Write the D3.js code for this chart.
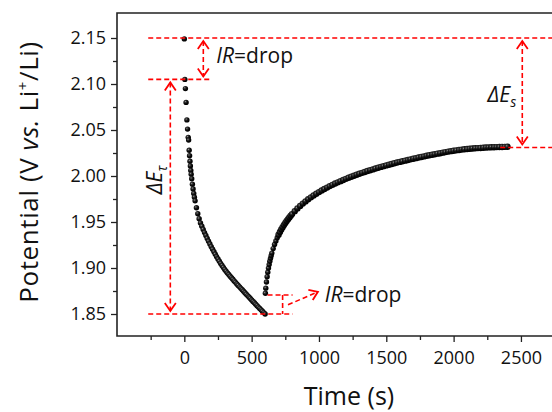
<!DOCTYPE html>
<html><head><meta charset="utf-8">
<script src="https://cdn.jsdelivr.net/npm/d3@7"></script>
<style>
body{margin:0;background:#fff;}
svg{display:block;font-family:'Open Sans',sans-serif;}
</style>
</head><body>
<svg id="chart" width="552" height="412"></svg>
<script>
// ---------- data ----------
const dischargeTime = [0,4,8,13,19,24,29,32,36,39,42,45,48,51,55,60,65,70,75,80,90,100,110,120,
  130,140,150,160,170,180,190,200,210,220,230,240,250,260,270,280,290,300,310,320,330,340,350,
  360,370,380,390,400,410,420,430,440,450,460,470,480,490,500,510,520,530,540,550,560,570,580,590,600];
const dischargePotential = [2.149,2.105,2.095,2.080,2.061,2.051,2.042,2.039,2.028,2.022,2.016,2.011,
  2.006,2.002,1.997,1.991,1.986,1.981,1.977,1.973,1.9655,1.959,1.9535,1.949,
  1.9454,1.9419,1.9385,1.9353,1.9321,1.9291,1.9261,1.9232,1.9204,1.9176,1.9149,1.9123,1.9098,
  1.9073,1.9050,1.9027,1.9006,1.8985,1.8966,1.8947,1.8929,1.8911,1.8894,1.8877,1.8860,1.8844,
  1.8827,1.8811,1.8795,1.8779,1.8763,1.8747,1.8731,1.8715,1.8700,1.8684,1.8668,1.8653,1.8637,
  1.8622,1.8606,1.8591,1.8575,1.8560,1.8545,1.8530,1.8515,1.8500];
const restTime = [602,605,610,615,620,625,630,635,640,645,650,660,670,680,690,700,710,720,730,740,
  750,760,770,780,790,800,820,840,860,880,900,920,940,960,980,1000,1020,1040,1060,1080,1100,1120,
  1140,1160,1180,1200,1220,1240,1260,1280,1300,1320,1340,1360,1380,1400,1420,1440,1460,1480,1500,
  1520,1540,1560,1580,1600,1620,1640,1660,1680,1700,1720,1740,1760,1780,1800,1820,1840,1860,1880,
  1900,1920,1940,1960,1980,2000,2020,2040,2060,2080,2100,2120,2140,2160,2180,2200,2220,2240,2260,
  2280,2300,2320,2340,2360,2380,2400];
const restPotential = [1.8725,1.8781,1.8848,1.8905,1.8955,1.8999,1.9037,1.9073,1.9105,1.9134,1.9162,
  1.9211,1.9255,1.9294,1.9329,1.9361,1.9391,1.9419,1.9444,1.9468,1.9490,1.9511,1.9531,1.9550,1.9568,
  1.9586,1.9618,1.9648,1.9675,1.9700,1.9724,1.9747,1.9768,1.9788,1.9807,1.9825,1.9842,1.9858,1.9874,
  1.9890,1.9904,1.9918,1.9931,1.9944,1.9957,1.9969,1.9981,1.9992,2.0003,2.0014,2.0024,2.0034,2.0044,
  2.0054,2.0063,2.0072,2.0081,2.0090,2.0099,2.0107,2.0115,2.0123,2.0131,2.0139,2.0146,2.0153,2.0160,
  2.0167,2.0174,2.0181,2.0188,2.0194,2.0201,2.0207,2.0213,2.0220,2.0226,2.0231,2.0237,2.0243,2.0248,
  2.0254,2.0260,2.0265,2.0270,2.0275,2.0279,2.0283,2.0287,2.0290,2.0293,2.0296,2.0299,2.0301,2.0303,
  2.0305,2.0307,2.0309,2.0311,2.0312,2.0313,2.0314,2.0315,2.0316,2.0317,2.0318];
const xTickValues = [0,500,1000,1500,2000,2500];
const xMinorTickValues = [-250,250,750,1250,1750,2250];
const yTickValues = [1.85,1.90,1.95,2.00,2.05,2.10,2.15];
const yMinorTickValues = [1.875,1.925,1.975,2.025,2.075,2.125];
const xTitle = "Time (s)";

// ---------- layout ----------
const svg = d3.select("#chart");
const plotLeft = 117, plotTop = 13, plotBottom = 336, plotRight = 552;
const x = d3.scaleLinear().domain([-500, 2750]).range([117, 554.6]);
const y = d3.scaleLinear().domain([1.85, 2.15]).range([314, 38]);

svg.append("rect").attr("x",0).attr("y",0).attr("width",552).attr("height",412).attr("fill","#fff");

const defs = svg.append("defs");
const g = defs.append("radialGradient").attr("id","ball").attr("cx","38%").attr("cy","35%").attr("r","60%");
g.append("stop").attr("offset","0%").attr("stop-color","#9a9a9a");
g.append("stop").attr("offset","25%").attr("stop-color","#3a3a3a");
g.append("stop").attr("offset","60%").attr("stop-color","#0c0c0c");
g.append("stop").attr("offset","100%").attr("stop-color","#000");
defs.append("clipPath").attr("id","clip").append("rect")
  .attr("x",plotLeft).attr("y",plotTop).attr("width",plotRight-plotLeft).attr("height",plotBottom-plotTop);

// ---------- axes ----------
const axisColor = "#222";
const xAxis = svg.append("g").attr("transform",`translate(0,${plotBottom})`)
  .call(d3.axisBottom(x).tickValues(xTickValues).tickSize(6).tickPadding(9).tickFormat(d3.format("d")));
const xMinor = svg.append("g").attr("transform",`translate(0,${plotBottom})`)
  .call(d3.axisBottom(x).tickValues(xMinorTickValues).tickSize(4).tickFormat(""));
const yAxis = svg.append("g").attr("transform",`translate(${plotLeft},0)`)
  .call(d3.axisLeft(y).tickValues(yTickValues).tickSize(6).tickPadding(5).tickFormat(d3.format(".2f")));
const yMinor = svg.append("g").attr("transform",`translate(${plotLeft},0)`)
  .call(d3.axisLeft(y).tickValues(yMinorTickValues).tickSize(4).tickFormat(""));
[xAxis,xMinor,yAxis,yMinor].forEach(a=>{
  a.select(".domain").remove();
  a.selectAll("line").attr("stroke",axisColor).attr("stroke-width",1.3);
  a.selectAll("text").attr("fill","#111").style("font-size","18px").style("font-family","'Open Sans',sans-serif");
});

// frame
const frame = svg.append("g").attr("stroke",axisColor).attr("stroke-width",1.6).attr("fill","none");
frame.append("path").attr("d",`M${plotRight},${plotTop}H${plotLeft}V${plotBottom}H${plotRight}`);

// titles
svg.append("text").attr("x",349).attr("y",405).attr("text-anchor","middle")
  .style("font-size","25px").attr("fill","#111").text(xTitle);
const yt = svg.append("text").attr("transform","translate(38,172) rotate(-90)").attr("text-anchor","middle")
  .style("font-size","26px").style("letter-spacing","0.6px").attr("fill","#111");
yt.append("tspan").text("Potential (V ");
yt.append("tspan").style("font-style","italic").text("vs.");
yt.append("tspan").text(" Li");
yt.append("tspan").attr("dy",-10).style("font-size","15px").text("+");
yt.append("tspan").attr("dy",10).text("/Li)");

// ---------- data points ----------
const pts = svg.append("g").attr("clip-path","url(#clip)");
const dis = dischargeTime.map((t,i)=>({t, v: dischargePotential[i]}));
const rest = restTime.map((t,i)=>({t, v: restPotential[i]}));
pts.selectAll("circle.d").data(dis).join("circle").attr("class","d")
  .attr("cx",d=>x(d.t)).attr("cy",d=>y(d.v)).attr("r",2.7)
  .attr("fill","url(#ball)");
pts.selectAll("circle.r").data(rest).join("circle").attr("class","r")
  .attr("cx",d=>x(d.t)).attr("cy",d=>y(d.v)).attr("r",d=>d.t<700?2.7:3.2)
  .attr("fill","url(#ball)");

// ---------- annotations ----------
const red = "#ff0000";
const ann = svg.append("g").attr("stroke",red).attr("stroke-width",1.6).attr("fill","none");
function dline(t1,v1,t2,v2){
  ann.append("line").attr("x1",x(t1)).attr("y1",y(v1)).attr("x2",x(t2)).attr("y2",y(v2))
    .attr("stroke-dasharray","5,3");
}
function head(px,py,ang){ // ang: direction the arrow points (radians, screen)
  const L=8, W=5.5, bx=Math.cos(ang+Math.PI), by=Math.sin(ang+Math.PI);
  const nx=-by, ny=bx;
  ann.append("path").attr("d",`M${px+bx*L+nx*W},${py+by*L+ny*W}L${px},${py}L${px+bx*L-nx*W},${py+by*L-ny*W}`)
    .attr("stroke-width",1.8);
}
function vArrow(t,vTop,vBot){
  const xp=x(t), y1=y(vTop)+3, y2=y(vBot)-3;
  ann.append("line").attr("x1",xp).attr("x2",xp).attr("y1",y1).attr("y2",y2).attr("stroke-dasharray","5,3");
  head(xp,y1,-Math.PI/2); head(xp,y2,Math.PI/2);
}
const vTopLevel = 2.15, vIR = 2.105, vMin = 1.85, vRest = 1.8707, vEnd = 2.031;
dline(-268,vTopLevel,2750,vTopLevel);
dline(-268,vIR,186,vIR);
vArrow(141,vTopLevel,vIR);
vArrow(-104,vIR,vMin);
dline(-268,vMin,804,vMin);
dline(618,vRest,804,vRest);
dline(730,vRest,730,vMin);
dline(770,1.860,992,1.8741);
head(x(992),y(1.8741),Math.atan2(y(1.8741)-y(1.860),x(992)-x(770)));
dline(2346,vEnd,2750,vEnd);
vArrow(2510,vTopLevel,vEnd);

// annotation texts
const txt = svg.append("g").attr("fill","#111").style("font-size","21px");
function irText(t,v){
  const tx = txt.append("text").attr("x",x(t)).attr("y",y(v));
  tx.append("tspan").style("font-style","italic").text("IR");
  tx.append("tspan").text("=drop");
}
irText(238,2.1228);
irText(1043,1.863);
const es = txt.append("text").attr("x",x(2465)).attr("y",y(2.0804)).attr("text-anchor","end").style("font-style","italic");
es.append("tspan").text("ΔE");
es.append("tspan").attr("dy",5).style("font-size","14px").text("s");
const et = txt.append("text").attr("transform",`translate(${x(-164)},${y(1.9957)}) rotate(-90)`)
  .attr("text-anchor","middle").style("font-style","italic");
et.append("tspan").text("ΔE");
et.append("tspan").attr("dy",5).style("font-size","14px").text("τ");
</script>
</body></html>
